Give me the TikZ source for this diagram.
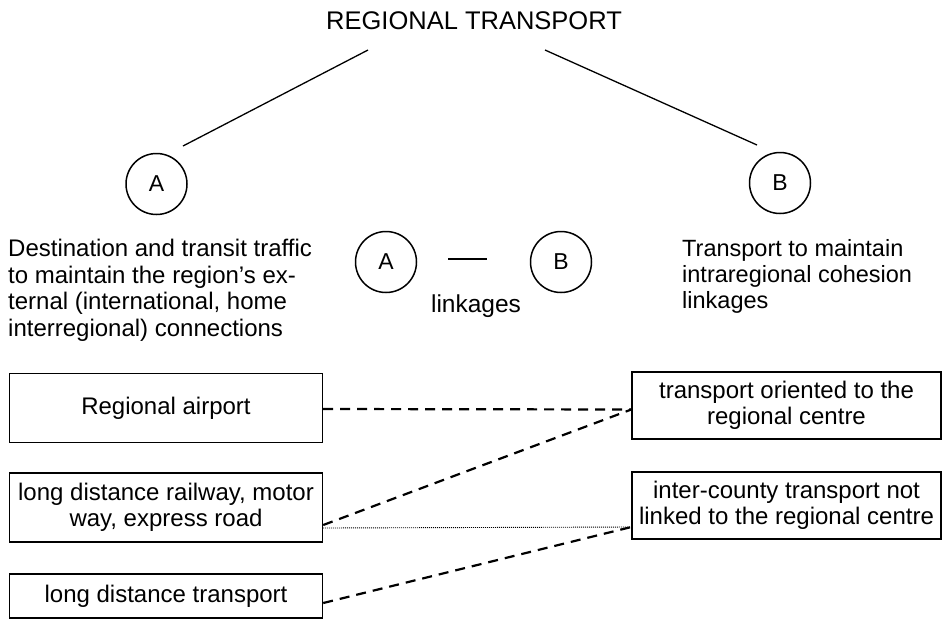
\documentclass[tikz,border=0pt]{standalone}
\usepackage{fontspec}
\setmainfont{Liberation Sans}
\begin{document}
\begin{tikzpicture}[x=1pt,y=-1pt,
  circ/.style={draw,circle,line width=1.5pt,minimum size=61pt,inner sep=0pt,font=\fontsize{23}{26}\selectfont},
  tbox/.style={draw,line width=1.4pt,inner sep=2pt,align=center,font=\fontsize{24}{26.5}\selectfont},
  desc/.style={align=left,inner sep=0pt,font=\fontsize{24}{26.7}\selectfont},
  dlink/.style={line width=2.2pt,dash pattern=on 10pt off 7pt},
  tline/.style={line width=1.3pt}]
\useasboundingbox (0,0) rectangle (942,619);
\node[font=\fontsize{25.5}{28}\selectfont] (title) at (474,21) {REGIONAL TRANSPORT};
\node[circ] (A) at (156.5,184) {A};
\node[circ] (B) at (780,183) {B};
\coordinate (tl) at (368,50);
\coordinate (tl2) at (183,146);
\coordinate (tr) at (545,50);
\coordinate (tr2) at (757,145);
\draw[tline] (tl) -- (tl2);
\draw[tline] (tr) -- (tr2);
\node[circ] (A2) at (386,262) {A};
\node[circ] (B2) at (561,262) {B};
\coordinate (d1) at (448,259);
\coordinate (d2) at (487,259);
\draw[line width=1.1pt] (d1) -- (d2);
\node[font=\fontsize{24.5}{26}\selectfont] (lk) at (476,306) {linkages};
\node[desc,anchor=north west] (ldesc) at (8,239) {Destination and transit traffic\\to maintain the region’s ex-\\ternal (international, home\\interregional) connections};
\node[desc,anchor=north west,font=\fontsize{23.5}{26}\selectfont] (rdesc) at (682,239) {Transport to maintain\\intraregional cohesion\\linkages};
\node[tbox,minimum width=313pt,minimum height=69pt] (ra) at (166,408) {Regional airport};
\node[tbox,minimum width=313pt,minimum height=69pt] (rail) at (166,507.5) {long distance railway, motor\\way, express road};
\node[tbox,minimum width=313pt,minimum height=44pt] (ldt) at (166,596) {long distance transport};
\node[tbox,minimum width=309pt,minimum height=67pt] (tro) at (786.5,405.5) {transport oriented to the\\regional centre};
\node[tbox,minimum width=309pt,minimum height=67pt] (ict) at (786.5,505.5) {inter-county transport not\\linked to the regional centre};
\coordinate (c1) at ([yshift=-4pt]tro.west);
\coordinate (c2) at ([yshift=-21.5pt]ict.west);
\coordinate (r1) at ([yshift=-17.5pt]rail.east);
\coordinate (r2) at ([yshift=-20.5pt]rail.east);
\coordinate (l1) at ([yshift=-7pt]ldt.east);
\draw[dlink] ([yshift=-1pt]ra.east) -- (c1);
\draw[dlink] (r1) -- (c1);
\draw[line width=0.9pt,dash pattern=on 1pt off 1pt] (r2) -- (c2);
\draw[dlink] (l1) -- (c2);
\end{tikzpicture}
\end{document}
